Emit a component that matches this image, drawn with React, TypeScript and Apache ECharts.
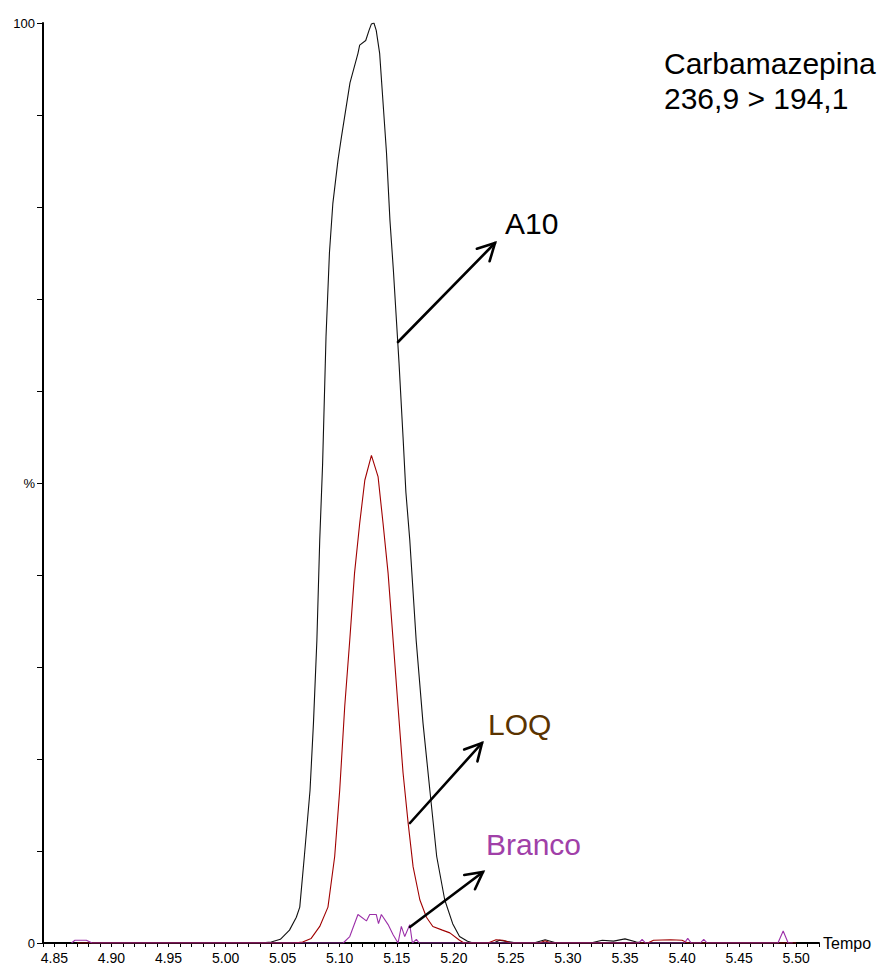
import React, { useEffect, useRef } from "react";
import * as echarts from "echarts";

// ---- Data (retention time in min, relative intensity in %) ----
const a10Time = [
  4.87, 5.03, 5.04, 5.048, 5.056, 5.062, 5.065, 5.069, 5.074, 5.077, 5.08, 5.0825, 5.085, 5.088,
  5.091, 5.094, 5.0985, 5.1015, 5.109, 5.116, 5.1175, 5.1228, 5.1257, 5.1278, 5.13, 5.132, 5.135,
  5.138, 5.141, 5.144, 5.147, 5.1497, 5.152, 5.1555, 5.158, 5.1614, 5.167, 5.173, 5.179, 5.185,
  5.192, 5.199, 5.205, 5.212, 5.217, 5.235, 5.24, 5.245, 5.25, 5.255, 5.27, 5.28, 5.29, 5.32,
  5.33, 5.34, 5.35, 5.36, 5.37, 5.5,
];
const a10Pct = [
  0, 0, 0.1, 0.4, 1.4, 2.8, 3.9, 9.4, 16.6, 23.9, 32.9, 43.8, 52, 65.9,
  75, 80.4, 85.1, 87.6, 93.5, 96.7, 97.6, 98.1, 99.2, 99.9, 100, 99.2, 96.7,
  91.3, 85.9, 78.6, 73.2, 67.7, 63, 55, 49, 43.8, 32.9, 23.9, 16.6, 9.4,
  4.7, 2.1, 0.7, 0.2, 0, 0, 0.3, 0.2, 0.1, 0, 0, 0.35, 0, 0,
  0.3, 0.2, 0.45, 0.1, 0, 0,
];

const loqTime = [
  4.87, 5.06, 5.0675, 5.075, 5.0825, 5.0897, 5.0956, 5.1, 5.1044, 5.1088, 5.113, 5.1175, 5.122,
  5.1278, 5.1336, 5.138, 5.1424, 5.1468, 5.1511, 5.1555, 5.16, 5.1643, 5.1702, 5.176, 5.1816,
  5.19, 5.1965, 5.205, 5.209, 5.23, 5.237, 5.243, 5.25, 5.275, 5.28, 5.285, 5.37, 5.375, 5.39,
  5.4, 5.405, 5.5,
];
const loqPct = [
  0, 0, 0.1, 0.5, 1.8, 3.9, 9.4, 16.6, 25.7, 32.9, 40.2, 45.6, 50.3,
  53.0, 50.7, 45.6, 40.2, 32.9, 25.7, 18.5, 13, 8.3, 4.7, 2.8, 1.8,
  1.4, 1.1, 0.3, 0, 0, 0.35, 0.3, 0, 0, 0.25, 0, 0, 0.3, 0.35,
  0.3, 0, 0,
];

const brancoTime = [
  4.865, 4.868, 4.878, 4.883, 5.103, 5.1088, 5.116, 5.1234, 5.1263, 5.132, 5.134, 5.1365, 5.1424,
  5.1468, 5.1511, 5.154, 5.157, 5.1614, 5.1637, 5.1672, 5.1696, 5.362, 5.365, 5.368, 5.402,
  5.405, 5.408, 5.416, 5.419, 5.422, 5.484, 5.4886, 5.493, 5.497,
];
const brancoPct = [
  0, 0.3, 0.3, 0, 0, 0.7, 3.1, 2.4, 3.1, 3.1, 2.1, 3.1, 2.0,
  0.9, 0, 1.8, 0.7, 2.0, 0, 0.4, 0, 0, 0.4, 0, 0,
  0.5, 0, 0, 0.4, 0, 0, 1.3, 0, 0,
];

const yLabels: Record<number, string> = { 0: "0", 50: "%", 100: "100" };
const titleLines = ["Carbamazepina", "236,9 > 194,1"];
const seriesNames = ["A10", "LOQ", "Branco"];

const FONT = "'Liberation Sans', Arial, sans-serif";

function pairs(t: number[], v: number[]) {
  return t.map((x, i) => [x, v[i]]);
}

function arrow(x1: number, y1: number, x2: number, y2: number) {
  const ang = Math.atan2(y2 - y1, x2 - x1);
  const len = 19;
  const spread = (28 * Math.PI) / 180;
  const w1 = [x2 - len * Math.cos(ang - spread), y2 - len * Math.sin(ang - spread)];
  const w2 = [x2 - len * Math.cos(ang + spread), y2 - len * Math.sin(ang + spread)];
  const style = { stroke: "#000", lineWidth: 2.6, fill: null as any, lineCap: "round" as const };
  return [
    { type: "line", shape: { x1, y1, x2, y2 }, style, z: 100 },
    { type: "polyline", shape: { points: [w1, [x2, y2], w2] }, style, z: 100 },
  ];
}

export default function App() {
  const ref = useRef<HTMLDivElement>(null);
  useEffect(() => {
    if (!ref.current) return;
    const chart = echarts.init(ref.current, undefined, { renderer: "svg" });
    const labelText = (x: number, y: number, text: string, color: string) => ({
      type: "text",
      x,
      y,
      z: 100,
      style: {
        text,
        fill: color,
        fontSize: 30,
        fontFamily: FONT,
        align: "left",
        verticalAlign: "middle",
      },
    });
    chart.setOption({
      animation: false,
      backgroundColor: "#fff",
      grid: { left: 43, right: 66, top: 23, bottom: 24, containLabel: false },
      xAxis: {
        type: "value",
        min: 4.84,
        max: 5.52,
        interval: 0.01,
        name: "Tempo",
        nameLocation: "end",
        nameGap: 4,
        nameTextStyle: { fontSize: 16, color: "#000", fontFamily: FONT, verticalAlign: "middle" },
        axisLine: { show: true, lineStyle: { color: "#000", width: 2 } },
        axisTick: { show: true, length: 4, lineStyle: { color: "#000", width: 1 } },
        axisLabel: {
          margin: 8,
          fontSize: 14,
          color: "#000",
          fontFamily: FONT,
          showMinLabel: true,
          showMaxLabel: true,
          formatter: (v: number) => (Math.round(v * 100) % 5 === 0 ? v.toFixed(2) : ""),
        },
        splitLine: { show: false },
      },
      yAxis: {
        type: "value",
        min: 0,
        max: 100,
        interval: 10,
        axisLine: { show: true, lineStyle: { color: "#000", width: 2 } },
        axisTick: { show: true, length: 6, lineStyle: { color: "#000", width: 1 } },
        axisLabel: {
          margin: 8,
          fontSize: 13,
          color: "#000",
          fontFamily: FONT,
          formatter: (v: number) => yLabels[Math.round(v)] ?? "",
        },
        splitLine: { show: false },
      },
      series: [
        {
          name: seriesNames[0],
          type: "line",
          data: pairs(a10Time, a10Pct),
          showSymbol: false,
          lineStyle: { color: "#111", width: 1.1 },
          z: 2,
        },
        {
          name: seriesNames[1],
          type: "line",
          data: pairs(loqTime, loqPct),
          showSymbol: false,
          lineStyle: { color: "#a00000", width: 1.1 },
          z: 3,
        },
        {
          name: seriesNames[2],
          type: "line",
          data: pairs(brancoTime, brancoPct),
          showSymbol: false,
          lineStyle: { color: "#9b2fa8", width: 1.1 },
          z: 4,
        },
      ],
      graphic: [
        labelText(664, 63, titleLines[0], "#000"),
        labelText(664, 98, titleLines[1], "#000"),
        labelText(505, 223, seriesNames[0], "#000"),
        labelText(488, 724, seriesNames[1], "#5a3300"),
        labelText(486, 844, seriesNames[2], "#a040a8"),
        ...arrow(398, 342, 495, 243),
        ...arrow(410, 823, 482, 743),
        ...arrow(410, 927, 483, 872),
      ],
    });
    return () => chart.dispose();
  }, []);
  return (
    <div
      ref={ref}
      style={{ position: "fixed", left: 0, top: 0, width: "885px", height: "967px", background: "#fff" }}
    />
  );
}
